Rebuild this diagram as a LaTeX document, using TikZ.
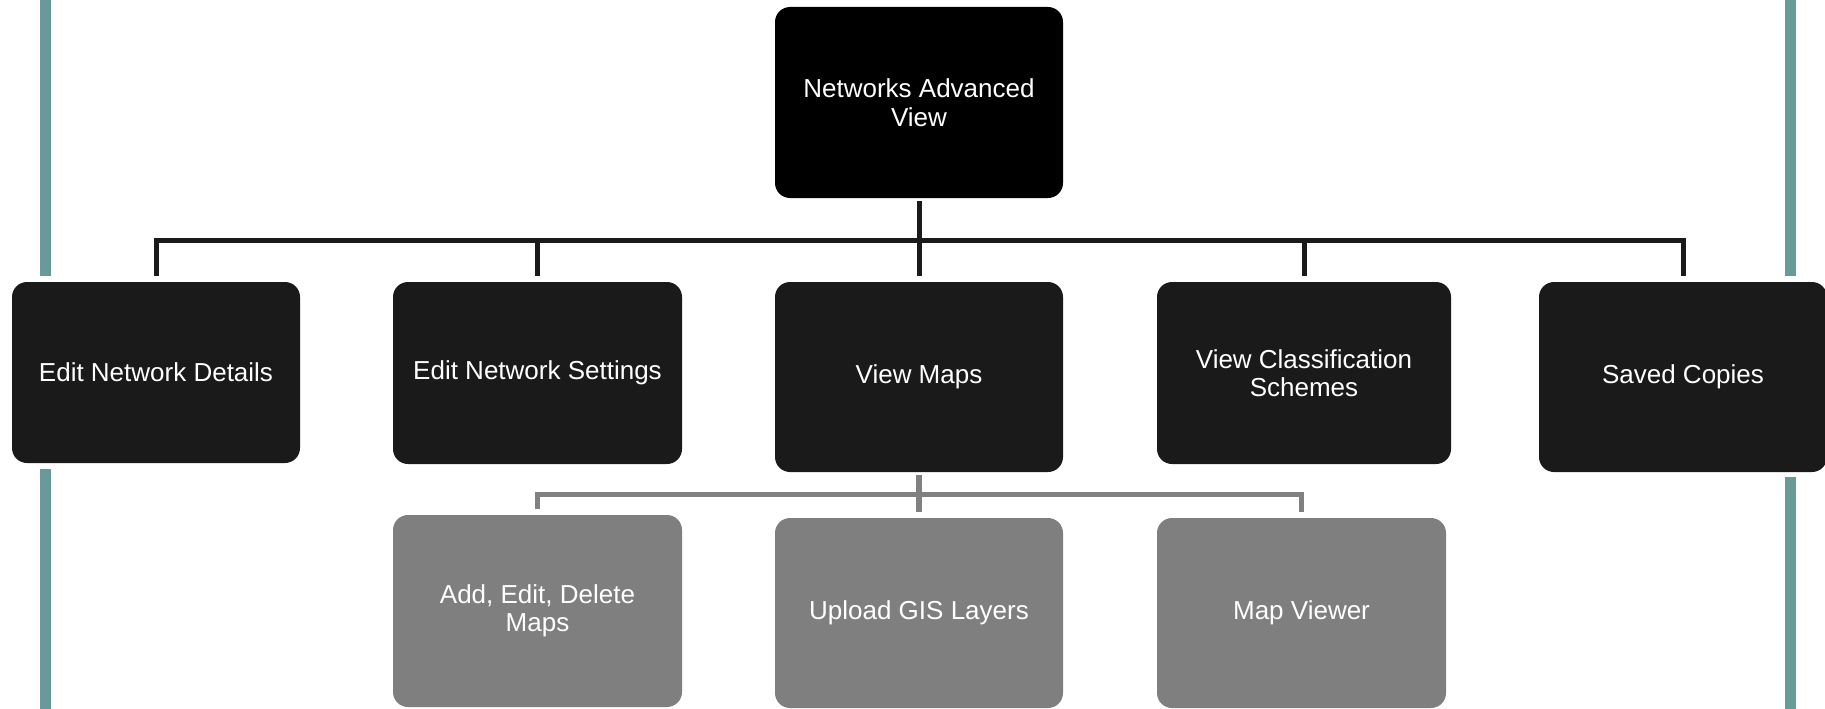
\documentclass[tikz,border=0pt]{standalone}
\usepackage{fontspec}
\setmainfont{Liberation Sans}
\definecolor{tealbar}{HTML}{689A9A}
\definecolor{lvltwo}{HTML}{1A1A1A}
\definecolor{lvlgray}{HTML}{7F7F7F}
\definecolor{linegray}{HTML}{808080}
\begin{document}
\begin{tikzpicture}[x=1pt,y=-1pt,
  box/.style={rectangle, rounded corners=15pt, inner sep=0pt, outer sep=3pt,
    text=white, align=center, font=\fontsize{26}{28.5}\selectfont},
  rootbox/.style={box, fill=black},
  topbox/.style={box, fill=lvltwo},
  graybox/.style={box, fill=lvlgray},
  conn/.style={draw=lvltwo, line width=5pt, shorten >=3pt},
  gconn/.style={draw=linegray, line width=5.5pt, shorten >=3pt},
  bar/.style={draw=tealbar, line width=11pt}]
\useasboundingbox (0,0) rectangle (1825,709);
% side bars
\draw[bar] (45.5,0) -- (45.5,276);
\draw[bar] (45.5,469) -- (45.5,709);
\draw[bar] (1790.5,0) -- (1790.5,276);
\draw[bar] (1790.5,477) -- (1790.5,709);
% nodes
\node[rootbox, minimum width=288pt, minimum height=191pt] (root) at (919,102.5) {Networks Advanced\\View};
\node[topbox, minimum width=288pt, minimum height=181pt] (n1) at (156,372.5) {Edit Network Details};
\node[topbox, minimum width=289pt, minimum height=182pt] (n2) at (537.5,373) {Edit Network Settings};
\node[topbox, minimum width=288pt, minimum height=190pt] (n3) at (919,377) {View Maps};
\node[topbox, minimum width=294pt, minimum height=182pt] (n4) at (1304,373) {View Classification\\Schemes};
\node[topbox, minimum width=288pt, minimum height=190pt] (n5) at (1683,377) {Saved Copies};
\node[graybox, minimum width=289pt, minimum height=192pt] (g1) at (537.5,611) {Add, Edit, Delete\\Maps};
\node[graybox, minimum width=288pt, minimum height=190pt] (g2) at (919,613) {Upload GIS Layers};
\node[graybox, minimum width=289pt, minimum height=190pt] (g3) at (1301.5,613) {Map Viewer};
% bus coordinates
\coordinate (bus) at (919,240);
\coordinate (gbus) at (919,494.5);
% connectors
\foreach \c in {n1,n2,n3,n4,n5}
  \draw[conn] (root.south) -- (root.south|-bus) -| (\c.north);
\foreach \c in {g1,g2,g3}
  \draw[gconn] (n3.south) -- (n3.south|-gbus) -| (\c.north);
\end{tikzpicture}
\end{document}
